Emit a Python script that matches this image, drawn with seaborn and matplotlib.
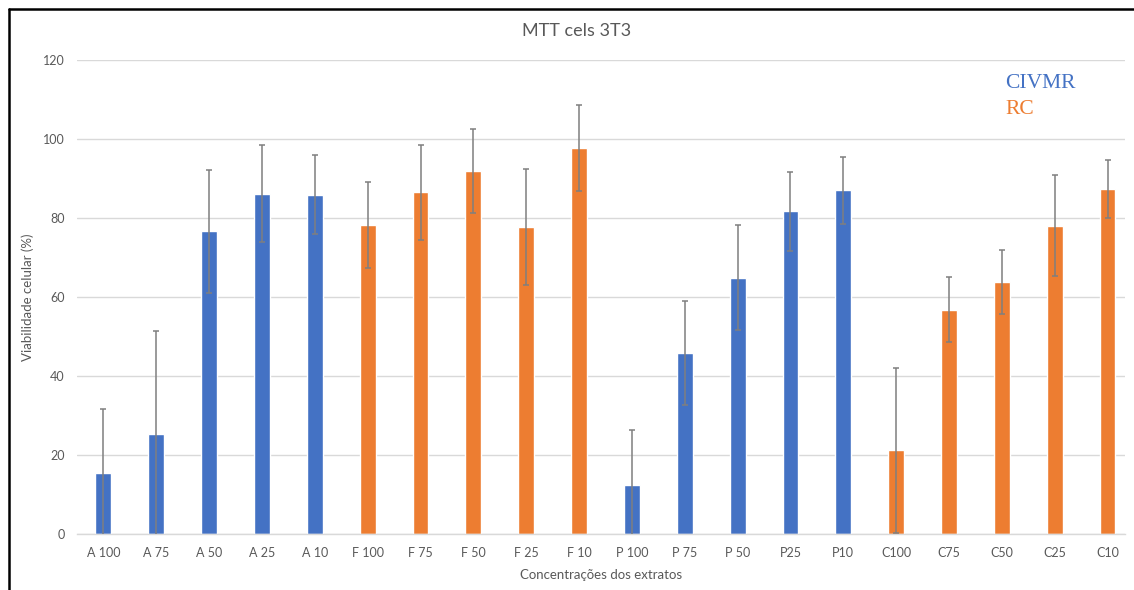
import matplotlib
matplotlib.use("Agg")
import matplotlib.pyplot as plt
from matplotlib.lines import Line2D
import numpy as np
import pandas as pd
import seaborn as sns

# Extract concentrations, mean viability and standard deviation
labels = ["A 100", "A 75", "A 50", "A 25", "A 10",
          "F 100", "F 75", "F 50", "F 25", "F 10",
          "P 100", "P 75", "P 50", "P25", "P10",
          "C100", "C75", "C50", "C25", "C10"]
groups = ["CIVMR"] * 5 + ["RC"] * 5 + ["CIVMR"] * 5 + ["RC"] * 5
viability = [15.5, 25.5, 76.7, 86.2, 86.0,
             78.3, 86.6, 92.0, 77.8, 97.8,
             12.4, 45.9, 64.9, 81.8, 87.1,
             21.3, 56.9, 63.9, 78.1, 87.4]
std_dev = [16.1, 25.9, 15.5, 12.3, 10.1,
           11.0, 12.0, 10.6, 14.8, 11.0,
           13.9, 13.1, 13.3, 10.0, 8.5,
           20.9, 8.2, 8.1, 12.8, 7.3]
y_ticks = [0, 20, 40, 60, 80, 100, 120]

BLUE = "#4472C4"
ORANGE = "#ED7D31"
GRID = "#D9D9D9"
TEXT = "#595959"

df = pd.DataFrame({"label": labels, "group": groups,
                   "viability": viability, "sd": std_dev})

sns.set_theme(style="white")
plt.rcParams["font.family"] = ["Lato", "DejaVu Sans"]

fig = plt.figure(figsize=(11.34, 5.90), dpi=100)
ax = fig.add_axes([77 / 1134, 1 - 534.3 / 590, 1048 / 1134, 474 / 590])

sns.barplot(data=df, x="label", y="viability", hue="group",
            palette={"CIVMR": BLUE, "RC": ORANGE}, saturation=1,
            dodge=False, width=0.30, errorbar=None, legend=False, ax=ax,
            order=labels, zorder=2)

ax.errorbar(np.arange(len(labels)), df["viability"], yerr=df["sd"],
            fmt="none", ecolor="#7F7F7F", elinewidth=1.1,
            capsize=2.5, capthick=1.1, zorder=3)

ax.set_ylim(0, 120)
ax.set_xlim(-0.5, 19.33)
ax.set_yticks(y_ticks)
ax.yaxis.grid(True, color=GRID, linewidth=1.0)
ax.set_axisbelow(True)
for side in ("left", "right", "top"):
    ax.spines[side].set_visible(False)
ax.spines["bottom"].set_color(GRID)
ax.spines["bottom"].set_linewidth(1.0)
ax.tick_params(axis="both", length=0, labelsize=9, colors=TEXT)
ax.tick_params(axis="y", pad=9)
ax.tick_params(axis="x", pad=9)

ax.set_xlabel("Concentrações dos extratos", fontsize=9.5, color=TEXT, labelpad=7)
ax.set_ylabel("Viabilidade celular (%)", fontsize=9.5, color=TEXT, labelpad=6)

fig.text(577 / 1134, 1 - 31 / 590, "MTT cels 3T3", ha="center", va="center",
         fontsize=13, color=TEXT)

fig.text(1005 / 1134, 1 - 84 / 590, "CIVMR", ha="left", va="center",
         fontsize=15.5, color=BLUE, family="Liberation Serif")
fig.text(1005 / 1134, 1 - 109 / 590, "RC", ha="left", va="center",
         fontsize=15.5, color=ORANGE, family="Liberation Serif")

# Frame edges on the left and top of the figure
fig.add_artist(Line2D([9 / 1134, 9 / 1134], [0, 1 - 9 / 590],
                      transform=fig.transFigure, color="black", linewidth=1.8))
fig.add_artist(Line2D([9 / 1134, 1], [1 - 9 / 590, 1 - 9 / 590],
                      transform=fig.transFigure, color="black", linewidth=1.8))

fig.savefig("out.png", dpi=100)
